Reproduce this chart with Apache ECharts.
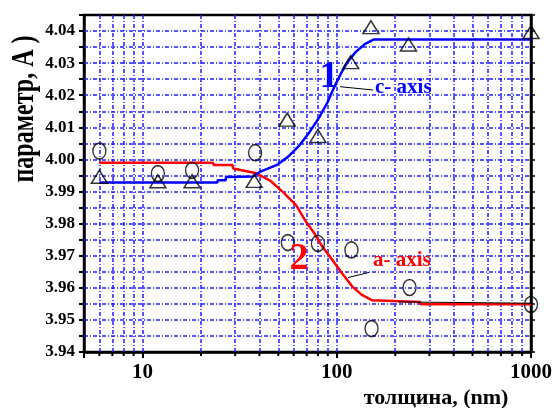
<!DOCTYPE html>
<html><head><meta charset="utf-8">
<script src="https://cdn.jsdelivr.net/npm/echarts@6/dist/echarts.min.js"></script>
<style>html,body{margin:0;padding:0;background:#fff}#c{width:555px;height:408px}</style>
</head><body><div id="c"></div>
<script>
// measured points (triangles: c-axis, circles: a-axis)
const triX = [6, 12, 18, 37.6, 55.6, 80, 118, 150, 234, 1000];
const triY = [3.9946, 3.9932, 3.9932, 3.9933, 4.0124, 4.0073, 4.0303, 4.0412, 4.0358, 4.0397];
const cirX = [6, 12, 18, 38, 56, 80, 119, 151, 237, 1000];
const cirY = [4.0026, 3.9956, 3.9966, 4.0021, 3.9741, 3.9738, 3.9718, 3.9473, 3.9601, 3.9548];
// fitted curves
const cFitX = [6, 24.3, 24.4, 26.8, 26.9, 37, 40.2, 48.9, 56.1, 64.3, 72.4, 81.4, 89.8, 97.1, 105, 113.5, 125.3, 140.9, 155.5, 1000];
const cFitY = [3.9928, 3.9928, 3.9935, 3.9935, 3.9945, 3.9947, 3.9961, 3.9982, 4.0008, 4.0044, 4.0085, 4.0132, 4.0179, 4.0226, 4.0267, 4.0303, 4.0335, 4.0361, 4.0374, 4.0374];
const aFitX = [6, 23, 23.3, 29, 29.3, 38, 45.2, 52.9, 61.9, 69.6, 76.8, 84.6, 95.2, 107, 120.5, 135.6, 152.4, 269, 270, 1000];
const aFitY = [3.9990, 3.9990, 3.9983, 3.9983, 3.9972, 3.9958, 3.9935, 3.9898, 3.9857, 3.9805, 3.9769, 3.9727, 3.9686, 3.9644, 3.9603, 3.9577, 3.9561, 3.9556, 3.9549, 3.9549];
const blackX = [208, 1000];
const blackY = [3.9556, 3.9552];
// axis
const xLabels = ['10', '100', '1000'];
const xGrid = [6, 7, 8, 9, 10, 20, 30, 40, 50, 60, 70, 80, 90, 100, 200, 300, 400, 500, 600, 700, 800, 900];
const xMinorTicks = [6, 7, 8, 9, 20, 30, 40, 50, 60, 70, 80, 90, 200, 300, 400, 500, 600, 700, 800, 900];
const yGrid = [3.945, 3.95, 3.955, 3.96, 3.965, 3.97, 3.975, 3.98, 3.985, 3.99, 3.995, 4.00, 4.005, 4.01, 4.015, 4.02, 4.025, 4.03, 4.035, 4.04];
const yMin = 3.94, yMax = 4.045, yStep = 0.005;

const zip = (a, b) => a.map((v, i) => [v, b[i]]);
const FONT = 'Liberation Serif';
const gridStyle = () => ({ color: 'rgb(30,30,255)', width: 1.5, type: [4, 2, 1, 2] });
const ellipse = 'path://M50,0C77.6,0,100,22.4,100,50C100,77.6,77.6,100,50,100C22.4,100,0,77.6,0,50C0,22.4,22.4,0,50,0z';

const chart = echarts.init(document.getElementById('c'), null, { renderer: 'canvas' });
chart.setOption({
  animation: false,
  backgroundColor: '#fff',
  grid: { left: 84, right: 21, top: 15, bottom: 56, show: true, borderColor: '#000', borderWidth: 2.5, backgroundColor: 'transparent' },
  xAxis: {
    type: 'log', logBase: 10, min: 5, max: 1000,
    axisLine: { show: true, lineStyle: { color: '#000', width: 2.5 } },
    axisTick: { show: true, length: 6, lineStyle: { color: '#000', width: 2 } },
    axisLabel: {
      margin: 10, color: '#000', fontFamily: FONT, fontWeight: 'bold', fontSize: 21,
      formatter: v => { const s = String(Math.round(v)); return xLabels.indexOf(s) >= 0 ? s : ''; }
    },
    splitLine: { show: false }
  },
  yAxis: [{
    type: 'value', min: yMin, max: yMax, interval: yStep,
    axisLine: { show: true, lineStyle: { color: '#000', width: 2.5 } },
    axisTick: { show: true, length: 5, lineStyle: { color: '#000', width: 2 } },
    axisLabel: {
      margin: 9, color: '#000', fontFamily: FONT, fontWeight: 'bold', fontSize: 17,
      formatter: v => Math.abs(Math.round(v * 100) - v * 100) < 1e-6 ? v.toFixed(2) : ''
    },
    splitLine: { show: false }
  }, {
    type: 'value', position: 'right', min: yMin, max: yMax, interval: yStep,
    axisLine: { show: true, lineStyle: { color: '#000', width: 2.5 } },
    axisTick: { show: true, length: 4, lineStyle: { color: '#000', width: 1.5 } },
    axisLabel: { show: false }, splitLine: { show: false }
  }],
  series: [
    {
      type: 'line', data: zip(aFitX, aFitY), symbol: 'none',
      lineStyle: { color: '#ff0000', width: 2.5 }, z: 3,
      markLine: {
        silent: true, symbol: 'none', label: { show: false }, precision: 4,
        lineStyle: gridStyle(), z: 1, animation: false,
        data: xGrid.map(v => ({ xAxis: v })).concat(yGrid.map(v => ({ yAxis: v })))
      }
    },
    { type: 'line', data: zip(cFitX, cFitY), symbol: 'none', lineStyle: { color: '#0000ff', width: 2.5 }, z: 4 },
    { type: 'line', data: zip(blackX, blackY), symbol: 'none', lineStyle: { color: '#000', width: 1 }, z: 5 },
    {
      type: 'scatter', data: zip(triX, triY), symbol: 'triangle', symbolSize: [16, 13],
      itemStyle: { color: 'rgba(0,0,0,0)', borderColor: '#000', borderWidth: 1.5 }, z: 6
    },
    {
      type: 'scatter', data: zip(cirX, cirY), symbol: ellipse, symbolSize: [13, 16],
      itemStyle: { color: 'rgba(0,0,0,0)', borderColor: '#000', borderWidth: 1.5 }, z: 6
    },
    {
      // minor ticks on the bottom axis
      type: 'custom', silent: true, clip: false, z: 7,
      data: xMinorTicks.map(v => [v, yMin]),
      renderItem: (params, api) => {
        const p = api.coord([api.value(0), api.value(1)]);
        return { type: 'line', shape: { x1: p[0], y1: p[1], x2: p[0], y2: p[1] + 4 }, style: { stroke: '#000', lineWidth: 2 } };
      }
    }
  ],
  graphic: [
    { type: 'text', x: 329, y: 77, style: { text: '1', fill: '#0000ff', font: 'bold 38px "Liberation Serif"', textAlign: 'center', textVerticalAlign: 'middle' }, z: 10 },
    { type: 'text', x: 375, y: 88, style: { text: 'c- axis', fill: '#0000ff', font: 'bold 21px "Liberation Serif"', textAlign: 'left', textVerticalAlign: 'middle' }, z: 10 },
    { type: 'line', shape: { x1: 340, y1: 86.7, x2: 373, y2: 90 }, style: { stroke: '#000', lineWidth: 1 }, z: 10 },
    { type: 'text', x: 299, y: 259, style: { text: '2', fill: '#ff0000', font: 'bold 38px "Liberation Serif"', textAlign: 'center', textVerticalAlign: 'middle' }, z: 10 },
    { type: 'text', x: 373, y: 261, style: { text: 'a- axis', fill: '#ff0000', font: 'bold 21px "Liberation Serif"', textAlign: 'left', textVerticalAlign: 'middle' }, z: 10 },
    { type: 'line', shape: { x1: 348, y1: 277.5, x2: 369, y2: 272.5 }, style: { stroke: '#000', lineWidth: 1 }, z: 10 },
    { type: 'text', x: 436, y: 398, style: { text: 'толщина, (nm)', fill: '#000', font: 'bold 22px "Liberation Serif"', textAlign: 'center', textVerticalAlign: 'middle' }, z: 10 },
    { type: 'text', x: 25, y: 109, rotation: Math.PI / 2, scaleX: 1, scaleY: 1.3, style: { text: 'параметр, A )', fill: '#000', font: 'bold 24px "Liberation Serif"', textAlign: 'center', textVerticalAlign: 'middle' }, z: 10 }
  ]
});
</script>
</body></html>
